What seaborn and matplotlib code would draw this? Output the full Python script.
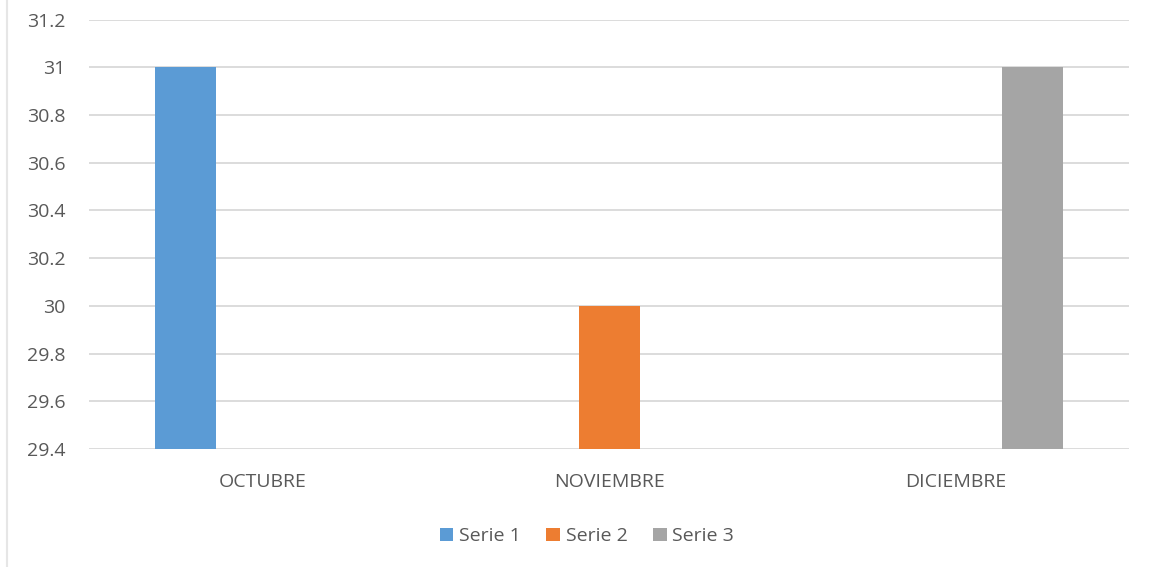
import matplotlib
matplotlib.use("Agg")
import matplotlib.pyplot as plt
from matplotlib.lines import Line2D
from matplotlib.patches import Patch
import pandas as pd
import seaborn as sns

# --- data ---
MONTHS = ["OCTUBRE", "NOVIEMBRE", "DICIEMBRE"]
SERIES = ["Serie 1", "Serie 2", "Serie 3"]
SERIE_OF_BAR = ["Serie 1", "Serie 2", "Serie 3"]
VALUES = [31.0, 30.0, 31.0]
Y_TICKS = [29.4, 29.6, 29.8, 30.0, 30.2, 30.4, 30.6, 30.8, 31.0, 31.2]
Y_LABELS = ["29.4", "29.6", "29.8", "30", "30.2", "30.4", "30.6", "30.8", "31", "31.2"]

COLORS = {"Serie 1": "#5B9BD5", "Serie 2": "#ED7D31", "Serie 3": "#A5A5A5"}
TEXT = "#595959"
GRID = "#D9D9D9"

sns.set_theme(style="white")
plt.rcParams["font.family"] = ["Open Sans", "DejaVu Sans"]

df = pd.DataFrame({"mes": MONTHS, "serie": SERIE_OF_BAR, "valor": VALUES})

fig = plt.figure(figsize=(11.51, 5.67), dpi=100)
ax = fig.add_axes([0.0773, 0.2081, 0.9037, 0.7575])

sns.barplot(data=df, x="mes", y="valor", hue="serie", hue_order=SERIES,
            order=MONTHS, palette=COLORS, width=0.666, gap=0.207, dodge=True,
            saturation=1, linewidth=0, legend=False, ax=ax)

ax.set_ylim(29.4, 31.2)
ax.set_xlim(-0.5, 2.5)
ax.set_yticks(Y_TICKS)
ax.set_yticklabels(Y_LABELS)
ax.yaxis.grid(True, color=GRID, lw=1.3)
ax.set_axisbelow(True)
for s in ax.spines.values():
    s.set_visible(False)
ax.tick_params(axis="both", length=0, labelsize=14, colors=TEXT)
ax.tick_params(axis="y", pad=17)
ax.tick_params(axis="x", pad=17)
ax.set_xlabel("")
ax.set_ylabel("")

handles = [Patch(facecolor=COLORS[s], edgecolor="none", label=s) for s in SERIES]
fig.legend(handles=handles, loc="center", bbox_to_anchor=(0.51, 0.054), ncol=3,
           frameon=False, fontsize=14, labelcolor=TEXT, handlelength=0.7,
           handleheight=0.7, handletextpad=0.3, columnspacing=1.3)

# faint left frame edge of the chart area
fig.add_artist(Line2D([0.0065, 0.0065], [0.0, 1.0], color="#E6E6E6", lw=1.5,
                      transform=fig.transFigure))

fig.savefig("out.png", dpi=100)
